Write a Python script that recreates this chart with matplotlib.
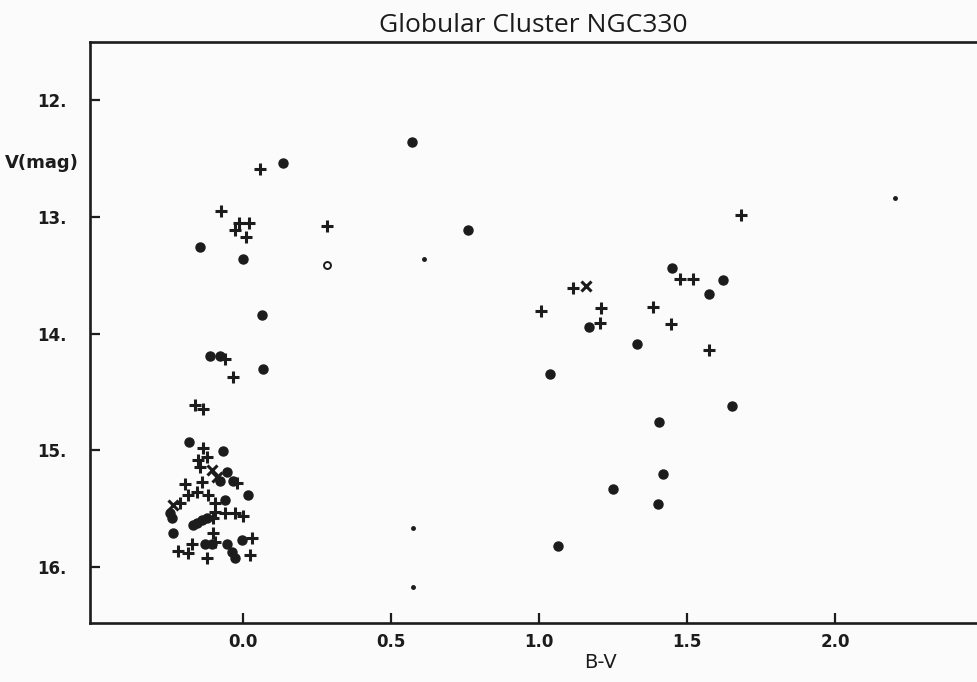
"""Colour-magnitude diagram of the globular cluster NGC330 (hand-plotted style)."""
import matplotlib
matplotlib.use('Agg')
import matplotlib.pyplot as plt

# Stars marked with '+'
plus_bv = [0.057, -0.074, -0.014, 0.020, -0.027, 0.010, 0.284, 1.682, 1.476, 1.520,
           1.115, 1.007, 1.209, 1.206, 1.385, 1.446, 1.574, -0.061, -0.034, -0.162,
           -0.135, -0.135, -0.152, -0.122, -0.145, -0.020, -0.196, -0.139, -0.155, -0.186,
           -0.118, -0.095, -0.213, -0.095, -0.061, -0.027, 0.000, -0.101, -0.101, -0.172,
           -0.095, 0.030, -0.220, -0.186, -0.122, 0.024]
plus_v = [12.59, 12.95, 13.05, 13.05, 13.11, 13.17, 13.08, 12.98, 13.53, 13.53,
          13.61, 13.81, 13.78, 13.91, 13.77, 13.92, 14.14, 14.22, 14.37, 14.61,
          14.65, 14.98, 15.08, 15.06, 15.14, 15.28, 15.29, 15.27, 15.36, 15.38,
          15.38, 15.45, 15.45, 15.53, 15.54, 15.54, 15.56, 15.58, 15.71, 15.80,
          15.79, 15.75, 15.86, 15.88, 15.92, 15.90]

# Stars marked with a filled dot
dot_bv = [0.135, 0.571, 0.760, -0.145, 0.000, 0.064, -0.111, -0.078, 0.068, 1.449,
          1.622, 1.574, 1.169, 1.331, 1.037, 1.652, 1.405, 1.419, 1.250, 1.402,
          1.064, -0.182, -0.068, -0.054, -0.078, -0.034, 0.017, -0.061, -0.247, -0.240,
          -0.155, -0.139, -0.122, -0.169, -0.236, -0.128, -0.105, -0.054, -0.003, -0.037,
          -0.027]
dot_v = [12.54, 12.36, 13.11, 13.26, 13.36, 13.84, 14.19, 14.19, 14.30, 13.44,
         13.54, 13.66, 13.94, 14.09, 14.35, 14.62, 14.76, 15.20, 15.33, 15.46,
         15.82, 14.93, 15.01, 15.19, 15.26, 15.26, 15.38, 15.43, 15.54, 15.58,
         15.62, 15.60, 15.58, 15.64, 15.71, 15.80, 15.80, 15.80, 15.77, 15.87,
         15.92]

# Stars marked with 'x'
cross_bv = [1.159, -0.105, -0.088, -0.236]
cross_v = [13.59, 15.17, 15.23, 15.47]

# Open circle and faint small dots
open_bv = [0.284]
open_v = [13.41]
faint_bv = [0.574, 0.574, 0.611, 2.203]
faint_v = [15.67, 16.17, 13.36, 12.84]

x_ticks = [0.0, 0.5, 1.0, 1.5, 2.0]
x_labels = ['0.0', '0.5', '1.0', '1.5', '2.0']
y_ticks = [12, 13, 14, 15, 16]
y_labels = ['12.', '13.', '14.', '15.', '16.']

INK = '#1c1c1c'
PAPER = '#fbfbfb'

fig = plt.figure(figsize=(9.77, 6.82), dpi=100, facecolor=PAPER)
ax = fig.add_axes([0.0921, 0.0865, 0.9079, 0.852], facecolor=PAPER)

ax.plot(plus_bv, plus_v, linestyle='none', marker='+', markersize=9,
        markeredgewidth=2.2, color=INK)
ax.plot(dot_bv, dot_v, linestyle='none', marker='o', markersize=6.5, color=INK)
ax.plot(cross_bv, cross_v, linestyle='none', marker='x', markersize=7,
        markeredgewidth=2.2, color=INK)
ax.plot(open_bv, open_v, linestyle='none', marker='o', markersize=5,
        markerfacecolor='none', markeredgewidth=1.4, color=INK)
ax.plot(faint_bv, faint_v, linestyle='none', marker='o', markersize=2.5, color=INK)

ax.set_xlim(-0.517, 2.48)
ax.set_ylim(16.48, 11.50)

ax.set_xticks(x_ticks)
ax.set_xticklabels(x_labels)
ax.set_yticks(y_ticks)
ax.set_yticklabels(y_labels)
ax.tick_params(axis='both', direction='in', length=7, width=1.6, colors=INK,
               labelsize=12)
ax.tick_params(axis='x', pad=7)
ax.tick_params(axis='y', pad=17)
for lab in ax.get_xticklabels() + ax.get_yticklabels():
    lab.set_fontweight('bold')

for side in ('left', 'top', 'bottom'):
    ax.spines[side].set_linewidth(1.9)
    ax.spines[side].set_color(INK)
ax.spines['right'].set_visible(False)

fig.text(533 / 977, 1 - 25 / 682, 'Globular Cluster NGC330', ha='center',
         va='center', fontsize=19, color=INK, family='Open Sans')
fig.text(5 / 977, 1 - 163 / 682, 'V(mag)', ha='left', va='center',
         fontsize=13, fontweight='bold', color=INK)
fig.text(600 / 977, 1 - 663 / 682, 'B-V', ha='center', va='center',
         fontsize=14, color=INK)

fig.savefig('out.png', dpi=100, facecolor=PAPER)
